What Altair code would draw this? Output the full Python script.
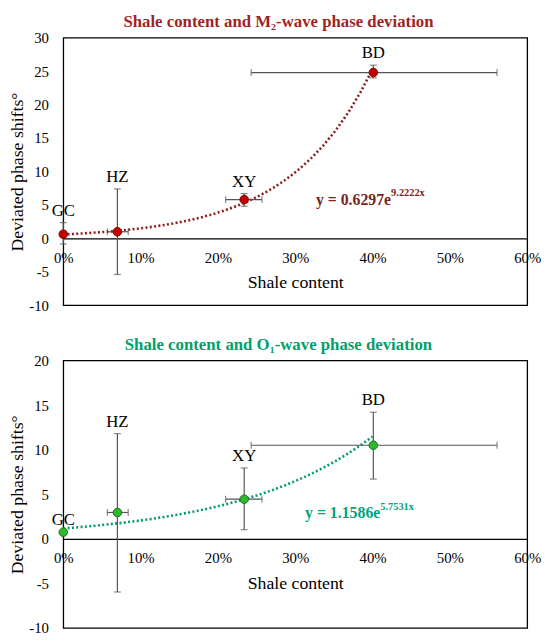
import altair as alt
import pandas as pd

# ---- data ----
sites = ["GC", "HZ", "XY", "BD"]
shale = [0.0, 0.070, 0.234, 0.401]
shale_lo = [0.0, 0.057, 0.210, 0.243]
shale_hi = [0.0, 0.084, 0.257, 0.561]

m2_phase = [0.63, 0.99, 5.8, 24.8]
m2_lo = [-0.84, -5.4, 4.8, 24.0]
m2_hi = [2.36, 7.4, 6.7, 25.9]

o1_phase = [0.75, 2.96, 4.45, 10.5]
o1_lo = [0.75, -5.96, 1.03, 6.7]
o1_hi = [0.75, 11.8, 7.95, 14.2]

x_ticks = [0.0, 0.1, 0.2, 0.3, 0.4, 0.5, 0.6]
m2_ticks = [-10, -5, 0, 5, 10, 15, 20, 25, 30]
o1_ticks = [-10, -5, 0, 5, 10, 15, 20]

m2_eq = ["y = 0.6297e", "9.2222x"]
o1_eq = ["y = 1.1586e", "5.7531x"]

FONT = "Liberation Serif"
W, H = 470, 271


def panel(yv, ylo, yhi, ydom, yticks, title, tcolor, fill, stroke, lcolor,
          eq, eqx, eqy, eqcolor, supdy):
    df = pd.DataFrame({"site": sites, "x": shale, "xlo": shale_lo, "xhi": shale_hi,
                       "y": yv, "ylo": ylo, "yhi": yhi})
    base = alt.Chart(df)
    xs = alt.Scale(domain=[0, 0.6], nice=False, zero=False)
    ys = alt.Scale(domain=ydom, nice=False, zero=False)
    zero_off = -H * (0 - ydom[0]) / (ydom[1] - ydom[0])
    xaxis = alt.Axis(values=x_ticks, format=".0%", offset=zero_off, title="Shale content",
                     labelFont=FONT, titleFont=FONT, labelColor="black", titleColor="black",
                     labelFontSize=15, titleFontSize=18, titleFontWeight="normal",
                     labelPadding=12, titlePadding=9, labelOverlap=False,
                     domain=True, domainColor="black", domainWidth=1.3, ticks=False,
                     grid=False, labelFlush=False)
    yaxis = alt.Axis(values=yticks, labelExpr="replace(datum.label, '\u2212', '-')",
                     title="Deviated phase shifts°",
                     labelFont=FONT, titleFont=FONT, labelColor="black", titleColor="black",
                     labelFontSize=15, titleFontSize=18, titleFontWeight="normal",
                     labelPadding=15, titlePadding=2, labelOverlap=False, domain=False,
                     ticks=False, grid=False, labelFlush=False)

    def X(f):
        return alt.X(f, scale=xs, axis=xaxis, title="Shale content")

    def Y(f):
        return alt.Y(f, scale=ys, axis=yaxis, title="Deviated phase shifts°")

    # exponential trendline: least squares on ln(y), as the spreadsheet does
    trend = base.transform_calculate(ly="log(datum.y)").transform_regression(
        "x", "ly", method="poly", order=1, extent=[0, 0.4]
    ).transform_calculate(yfit="exp(datum.ly)").mark_line(
        color=lcolor, strokeWidth=2.6, strokeDash=[2, 2.4], strokeCap="butt"
    ).encode(x=X("x:Q"), y=Y("yfit:Q"))

    verr = base.transform_filter("datum.ylo != datum.yhi").mark_errorbar(
        ticks=True, size=7, thickness=1.2, color="#555555"
    ).encode(x=X("x:Q"), y=Y("ylo:Q"), y2="yhi:Q")

    herr = base.transform_filter("datum.xlo != datum.xhi").mark_errorbar(
        ticks=True, size=7, thickness=1.2, color="#555555"
    ).encode(y=Y("y:Q"), x=X("xlo:Q"), x2="xhi:Q")

    pts = base.mark_point(shape="circle", filled=True, fill=fill, stroke=stroke,
                          strokeWidth=1, size=75, opacity=1).encode(x=X("x:Q"), y=Y("y:Q"))

    labels = base.mark_text(font=FONT, fontSize=17, baseline="bottom", dy=-3,
                            color="black").encode(x=X("x:Q"), y=Y("yhi:Q"), text="site:N")

    eqdf = pd.DataFrame({"b": [eq[0]], "s": [eq[1]]})
    ex = alt.XDatum(eqx, scale=xs, axis=xaxis, type="quantitative")
    ey = alt.YDatum(eqy, scale=ys, axis=yaxis, type="quantitative")
    eqb = alt.Chart(eqdf).mark_text(font=FONT, fontSize=16, fontWeight="bold", align="right",
                                    baseline="middle", color=eqcolor).encode(
        x=ex, y=ey, text="b:N")
    eqs = alt.Chart(eqdf).mark_text(font=FONT, fontSize=10.5, fontWeight="bold", align="left",
                                    baseline="middle", dy=supdy, color=eqcolor).encode(
        x=ex, y=ey, text="s:N")

    return alt.layer(trend, verr, herr, pts, labels, eqb, eqs).properties(
        width=W, height=H,
        title=alt.TitleParams(title, font=FONT, fontSize=17, fontWeight="bold", color=tcolor,
                              anchor="middle", dx=-17, offset=0))


top = panel(m2_phase, m2_lo, m2_hi, [-10, 30], m2_ticks,
            "Shale content and M\u2082-wave phase deviation", "#A31F24",
            "#C00000", "#8B0000", "#8E1B1B", m2_eq, 0.424, 5.76, "#7B2323", -7)
bottom = panel(o1_phase, o1_lo, o1_hi, [-10, 20], o1_ticks,
               "Shale content and O\u2081-wave phase deviation", "#00A06A",
               "#2EB82E", "#1F6F1F", "#009A6E", o1_eq, 0.41, 2.88, "#00A37A", -6)

chart = alt.vconcat(top, bottom, spacing=21).properties(padding=0).configure_view(
    stroke="black", strokeWidth=1.3
)

chart.save("out.html", embed_options={"renderer": "svg", "actions": False})
